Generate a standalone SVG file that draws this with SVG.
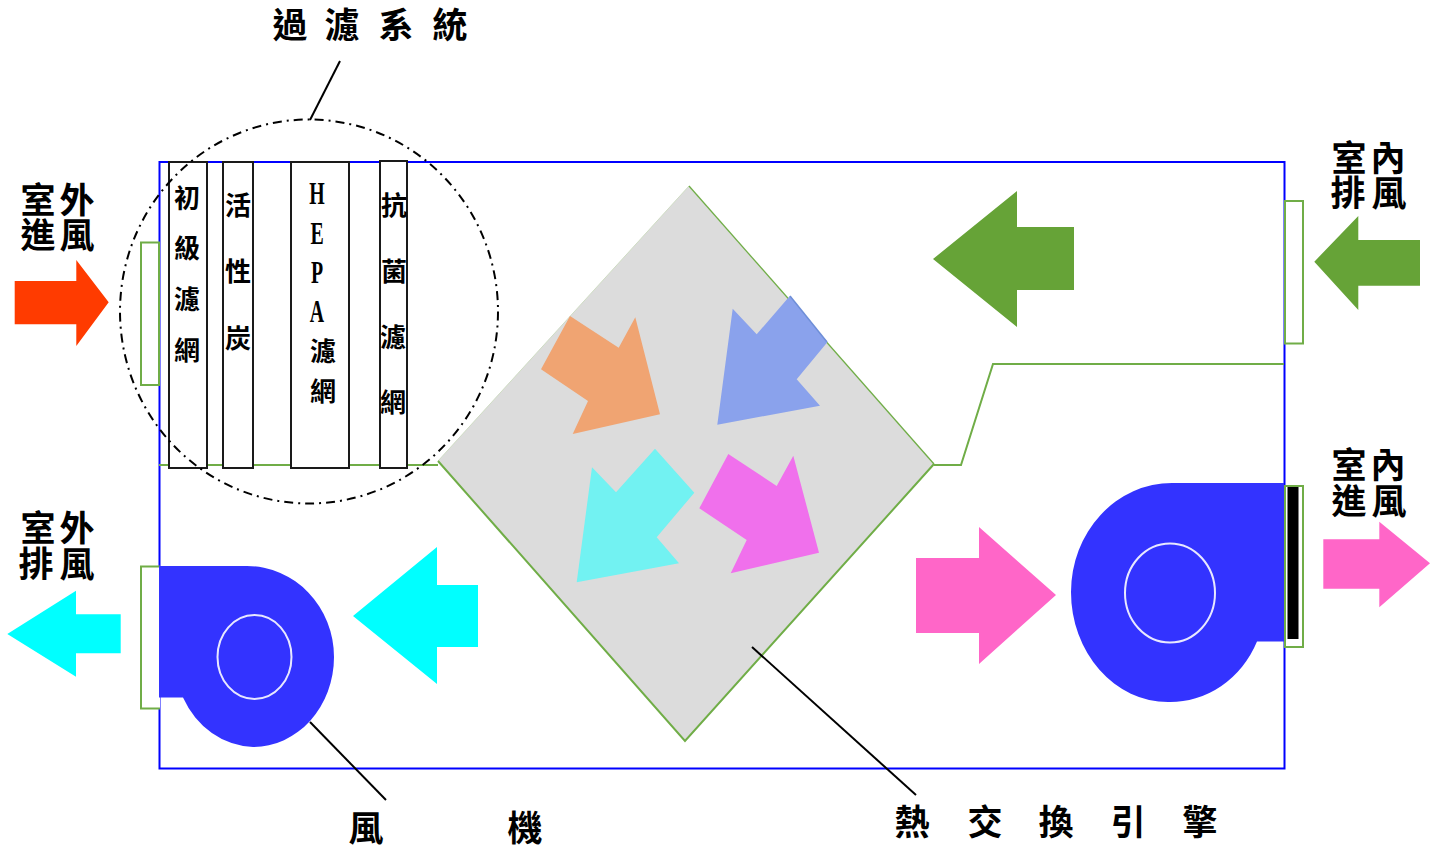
<svg xmlns="http://www.w3.org/2000/svg" width="1430" height="851" viewBox="0 0 1430 851">
<style>
text{font-family:"Liberation Serif","Noto Sans CJK TC",serif;fill:#000;text-anchor:middle}
.lg{font-size:35px;font-weight:700}
.sm{font-size:26px;font-weight:700}
.lat{font-size:32px;font-weight:700}
.box{fill:#fff;stroke:#1a1a1a;stroke-width:2}
.vent{fill:#fff;stroke:#70ad47;stroke-width:2}
.gl{fill:none;stroke:#70ad47;stroke-width:2}
.lead{fill:none;stroke:#000;stroke-width:2}
.fan{fill:#3333ff}
.hub{fill:none;stroke:#e8e8ff;stroke-width:2}
</style>
<rect width="1430" height="851" fill="#fff"/>
<g id="housing"><rect x="159.500" y="162" width="1125" height="606.500" fill="#fff" stroke="#0000ff" stroke-width="2"/></g>
<g id="heat-exchanger">
<polygon points="689,186 934,464 685,741 438,461" fill="#dcdcdc"/>
<path d="M438 461L689 186" fill="none" stroke="#cfdcc4" stroke-width="1"/>
<path d="M689 186L934 464" fill="none" stroke="#70ad47" stroke-width="1.300"/>
<path d="M934 464L685 741L438 461" fill="none" stroke="#70ad47" stroke-width="2"/>
<polygon points="570,316 618.700,347.700 635.300,317.300 660,414.300 572.700,434 588,401 541,369.300" fill="#f0a472"/>
<polygon points="790,295.700 827.300,342.300 796.700,379.300 820,405.700 717.300,424.700 732.700,308.700 756.700,334.300" fill="#8aa2ec"/>
<path d="M790 296L827 342" stroke="#6f8fd8" stroke-width="1.500" fill="none"/>
<polygon points="655,448.700 694.300,492.700 656.700,537.300 679,563.300 576.700,582.300 592,467.300 616,492.300" fill="#72f2f2"/>
<polygon points="728.300,454 776.700,486 793.300,455.700 819,552.700 730.700,573.300 746.700,540 699.300,508.300" fill="#f070ec"/>
</g>
<g id="vent-in"><rect class="vent" x="141" y="242.500" width="18" height="142.500"/></g>
<g id="vent-exhaust"><rect class="vent" x="1285" y="201" width="18" height="142.500"/></g>
<g id="vent-out"><path class="vent" d="M160 566.500H141V708.500H160"/></g>
<g id="fan-left">
<path class="fan" d="M159 566H247A87 91 0 0 1 334 657A81 90 0 0 1 253 747A81 90 0 0 1 183 697.500H159Z"/>
<ellipse class="hub" cx="254.500" cy="657" rx="37" ry="42"/>
</g>
<g id="fan-right">
<path class="fan" d="M1284 483H1172A101 109 0 0 0 1071 592A97 110 0 0 0 1168 702A95 102 0 0 0 1257 641.500H1284Z"/>
<ellipse class="hub" cx="1170" cy="593" rx="45" ry="49.500"/>
<rect class="vent" x="1285" y="486" width="18" height="161"/>
<rect x="1287.500" y="487" width="11" height="152" fill="#000"/>
</g>
<g id="connectors">
<path class="gl" d="M159 465H438"/>
<path class="gl" d="M934 465H961L993 364H1284"/>
<path class="lead" d="M340 61L310 120"/>
<path class="lead" d="M310 722L386 800"/>
<path class="lead" d="M752 647L916 795"/>
</g>
<g id="filter-primary"><rect class="box" x="169" y="162" width="38" height="306"/><text class="sm" x="187 187 187 187" y="208 258 309 360">初級濾網</text></g>
<g id="filter-carbon"><rect class="box" x="223" y="162" width="30" height="306"/><text class="sm" x="238 238 238" y="215 281 348">活性炭</text></g>
<g id="filter-hepa"><rect class="box" x="291" y="162" width="58" height="306"/><text class="lat" transform="translate(317 0) scale(.62 1)" x="0 0 0 0" y="204 244 283 322">HEPA</text><text class="sm" x="323 323" y="361 401">濾網</text></g>
<g id="filter-antibac"><rect class="box" x="380" y="161" width="27" height="307"/><text class="sm" x="394 394 393 393" y="215 281 347 412">抗菌濾網</text></g>
<g id="filter-system">
<ellipse cx="309" cy="311.500" rx="189" ry="192" fill="none" stroke="#000" stroke-width="2" stroke-dasharray="9 5 2 5"/>
<text class="lg" x="290 342 396 450" y="38 38 38 38">過濾系統</text>
</g>
<g id="arrow-outdoor-in"><polygon points="14.700,281 76.300,281 76.300,260 108.700,302.300 76.300,346 76.300,324.300 14.700,324.300" fill="#ff3b00"/><text class="lg" x="38 77 38 77" y="213 213 248 248">室外進風</text></g>
<g id="arrow-outdoor-out"><polygon points="7.300,634 76,590.700 76,614.300 120.700,614.300 120.700,653.300 76,653.300 76,676.700" fill="#00ffff"/><text class="lg" x="38 77 36 77" y="541 541 577 577">室外排風</text></g>
<g id="arrow-indoor-exhaust"><polygon points="1314.300,261.700 1358.300,216 1358.300,240 1420,240 1420,285.700 1358.300,285.700 1358.300,310" fill="#66a337"/><text class="lg" x="1349 1388 1348 1389" y="171 171 206 206">室內排風</text></g>
<g id="arrow-indoor-in"><polygon points="1323.300,539.300 1379.300,539.300 1379.300,521.700 1430,563.300 1379.300,607.300 1379.300,588.700 1323.300,588.700" fill="#ff66c8"/><text class="lg" x="1349 1388 1349 1389" y="478 478 514 514">室內進風</text></g>
<g id="arrow-green-large"><polygon points="933,259 1017,191 1017,227 1074,227 1074,290 1017,290 1017,327" fill="#66a337"/></g>
<g id="arrow-pink-large"><polygon points="916,558 979,558 979,527 1056,595 979,664 979,633 916,633" fill="#ff66c8"/></g>
<g id="arrow-cyan-large"><polygon points="353,616 437,547 437,585 478,585 478,647 437,647 437,684" fill="#00ffff"/></g>
<g id="label-fan"><text class="lg" x="366 525" y="841 841">風機</text></g>
<g id="label-engine"><text class="lg" x="912 985 1056 1128 1200" y="835 835 835 835 835">熱交換引擎</text></g>
</svg>
